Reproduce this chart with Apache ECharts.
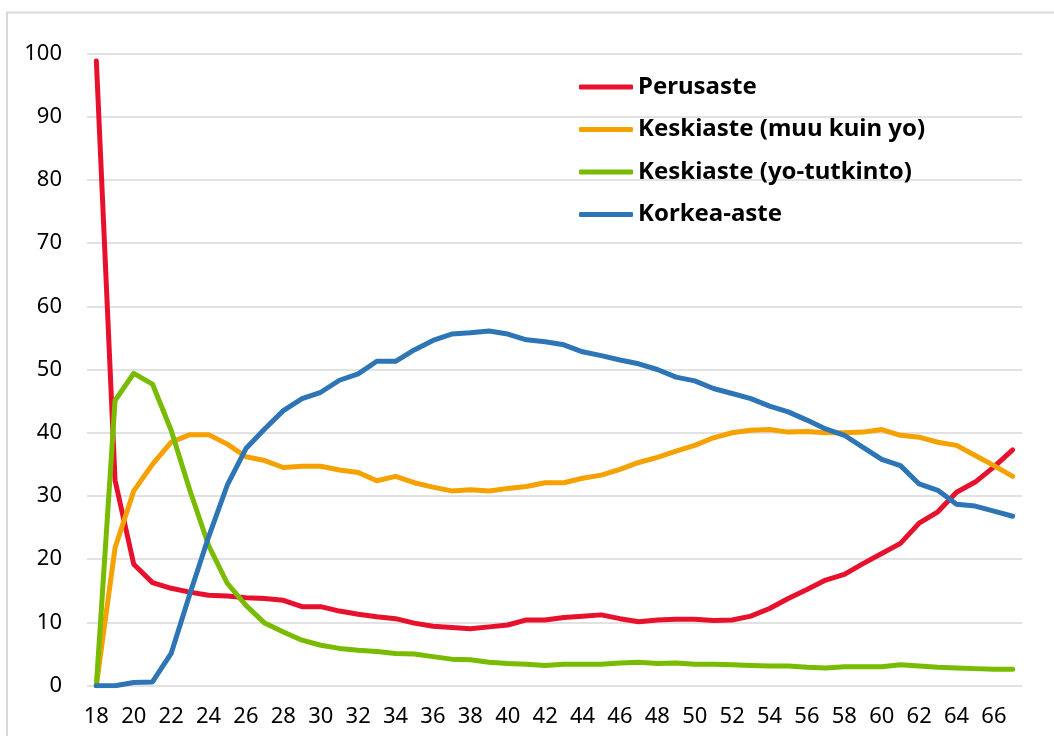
<!DOCTYPE html>
<html>
<head>
<meta charset="utf-8">
<script src="https://cdn.jsdelivr.net/npm/echarts@6/dist/echarts.min.js"></script>
<style>
  html, body { margin: 0; padding: 0; background: #fff; }
  #chart { width: 1054px; height: 736px; }
</style>
</head>
<body>
<div id="chart"></div>
<script>
// ikä 18–67
const ages = [
  18, 19, 20, 21, 22, 23, 24, 25, 26, 27,
  28, 29, 30, 31, 32, 33, 34, 35, 36, 37,
  38, 39, 40, 41, 42, 43, 44, 45, 46, 47,
  48, 49, 50, 51, 52, 53, 54, 55, 56, 57,
  58, 59, 60, 61, 62, 63, 64, 65, 66, 67
];

const perusaste = [
  98.8, 32.5, 19.2, 16.3, 15.4, 14.8, 14.3, 14.2, 13.9, 13.8,
  13.5, 12.5, 12.5, 11.8, 11.3, 10.9, 10.6, 9.9, 9.4, 9.2,
  9.0, 9.3, 9.6, 10.4, 10.4, 10.8, 11.0, 11.2, 10.6, 10.1,
  10.4, 10.5, 10.5, 10.3, 10.4, 11.0, 12.2, 13.8, 15.2, 16.7,
  17.6, 19.3, 20.9, 22.5, 25.7, 27.5, 30.6, 32.2, 34.6, 37.3
];

const keskiasteMuu = [
  0, 21.8, 30.8, 35.0, 38.5, 39.7, 39.7, 38.2, 36.2, 35.6,
  34.5, 34.7, 34.7, 34.1, 33.7, 32.4, 33.1, 32.1, 31.4, 30.8,
  31.0, 30.8, 31.2, 31.5, 32.1, 32.1, 32.8, 33.3, 34.2, 35.3,
  36.1, 37.1, 38.0, 39.2, 40.0, 40.4, 40.5, 40.1, 40.2, 40.0,
  40.0, 40.1, 40.5, 39.6, 39.3, 38.5, 38.0, 36.4, 34.8, 33.1
];

const keskiasteYo = [
  0, 45.1, 49.4, 47.7, 40.4, 30.9, 22.2, 16.2, 12.7, 9.9,
  8.5, 7.2, 6.4, 5.9, 5.6, 5.4, 5.1, 5.0, 4.6, 4.2,
  4.1, 3.7, 3.5, 3.4, 3.2, 3.4, 3.4, 3.4, 3.6, 3.7,
  3.5, 3.6, 3.4, 3.4, 3.3, 3.2, 3.1, 3.1, 2.9, 2.8,
  3.0, 3.0, 3.0, 3.3, 3.1, 2.9, 2.8, 2.7, 2.6, 2.6
];

const korkeaAste = [
  0, 0, 0.5, 0.6, 5.1, 14.5, 23.5, 31.7, 37.5, 40.6,
  43.5, 45.4, 46.4, 48.3, 49.3, 51.3, 51.3, 53.1, 54.6, 55.6,
  55.8, 56.1, 55.6, 54.7, 54.4, 53.9, 52.8, 52.2, 51.5, 50.9,
  50.0, 48.8, 48.2, 47.0, 46.2, 45.4, 44.2, 43.3, 42.0, 40.6,
  39.6, 37.7, 35.8, 34.8, 31.9, 30.9, 28.7, 28.4, 27.6, 26.8
];

const seriesNames = [
  "Perusaste",
  "Keskiaste (muu kuin yo)",
  "Keskiaste (yo-tutkinto)",
  "Korkea-aste"
];
const seriesColors = ["#e8112d", "#f5a100", "#78bb00", "#2e75b6"];
const seriesData = [perusaste, keskiasteMuu, keskiasteYo, korkeaAste];

const chart = echarts.init(document.getElementById("chart"));

const option = {
  animation: false,
  textStyle: { fontFamily: "Noto Sans" },
  graphic: [
    {
      // harmaa kehys
      type: "rect",
      silent: true,
      shape: { x: 7, y: 12.5, width: 1200, height: 900 },
      style: { fill: "none", stroke: "#d9d9d9", lineWidth: 2 }
    }
  ],
  grid: {
    left: 87,
    right: 32,
    top: 53.3,
    bottom: 50.3,
    containLabel: false
  },
  legend: {
    orient: "vertical",
    left: 574,
    top: 70,
    itemWidth: 54,
    itemHeight: 5,
    itemGap: 18.5,
    icon: "roundRect",
    textStyle: {
      fontFamily: "Noto Sans",
      fontWeight: "bold",
      fontSize: 24,
      color: "#000",
      lineHeight: 24
    },
    data: seriesNames
  },
  xAxis: {
    type: "category",
    data: ages,
    boundaryGap: true,
    axisLine: { show: false },
    axisTick: { show: false },
    axisLabel: {
      interval: 1,
      margin: 20,
      fontSize: 22,
      color: "#000"
    },
    splitLine: { show: false }
  },
  yAxis: {
    type: "value",
    min: 0,
    max: 100,
    interval: 10,
    axisLine: { show: false },
    axisTick: { show: false },
    axisLabel: {
      margin: 25,
      fontSize: 22,
      color: "#000"
    },
    splitLine: {
      lineStyle: { color: "#d9d9d9", width: 1.5 }
    }
  },
  series: seriesNames.map((name, i) => ({
    name: name,
    type: "line",
    data: seriesData[i],
    symbol: "none",
    color: seriesColors[i],
    lineStyle: {
      width: 5,
      color: seriesColors[i],
      cap: "round",
      join: "round"
    }
  }))
};

chart.setOption(option);
</script>
</body>
</html>
